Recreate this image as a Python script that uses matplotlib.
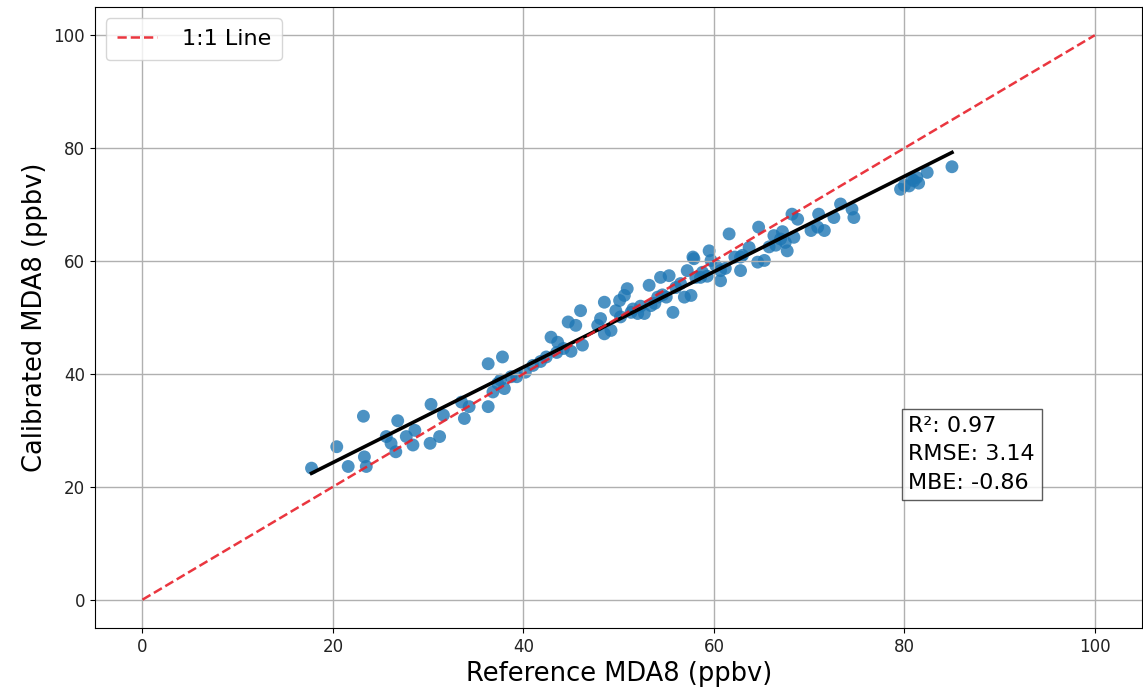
import numpy as np
import matplotlib
matplotlib.use('Agg')
import matplotlib.pyplot as plt

# reference vs calibrated MDA8 values
ref_mda8 = [
    17.75, 20.4, 21.6, 23.2, 23.3, 23.5, 25.6, 26.1, 26.8, 26.6,
    27.7, 28.4, 28.6, 30.3, 30.2, 31.2, 31.6, 33.5, 33.8, 34.3,
    36.3, 36.3, 36.8, 37.8, 37.3, 38.0, 38.7, 37.6, 39.3, 40.2,
    41.0, 41.8, 42.4, 43.5, 44.2, 45.0, 42.9, 44.7, 45.5, 46.0,
    43.6, 46.2, 48.5, 48.1, 47.8, 48.5, 49.2, 49.7, 50.1, 50.6,
    50.9, 50.2, 51.3, 52.0, 52.7, 53.2, 53.4, 54.1, 54.4, 55.3,
    55.0, 55.7, 56.9, 57.6, 57.8, 57.2, 58.1, 57.9, 59.5, 59.7,
    58.6, 60.7, 60.7, 61.6, 62.8, 62.8, 63.7, 64.6, 65.3, 64.7,
    66.3, 67.0, 67.7, 67.5, 68.2, 68.4, 68.8, 70.2, 70.9, 71.0,
    71.6, 72.6, 73.3, 74.5, 74.7, 79.6, 80.5, 81.0, 81.3, 82.4,
    85.0, 80.0, 80.8, 81.5, 51.5, 52.3, 53.8, 54.6, 56.0, 56.5,
    58.8, 59.3, 60.2, 61.2, 62.2, 63.0, 65.8, 66.5, 67.2,
]
cal_mda8 = [
    23.3, 27.1, 23.6, 32.5, 25.3, 23.6, 28.9, 27.7, 31.7, 26.2,
    28.9, 27.4, 30.0, 34.6, 27.7, 28.9, 32.7, 35.0, 32.1, 34.2,
    41.8, 34.2, 36.8, 43.0, 38.3, 37.4, 39.5, 38.9, 39.5, 40.3,
    41.5, 42.2, 43.0, 43.8, 44.5, 44.0, 46.5, 49.2, 48.6, 51.2,
    45.6, 45.1, 52.7, 49.8, 48.6, 47.1, 47.7, 51.2, 53.0, 53.9,
    55.1, 50.1, 50.9, 50.7, 50.7, 55.7, 52.1, 53.6, 57.1, 57.4,
    53.6, 50.9, 53.6, 53.9, 60.7, 58.3, 57.1, 60.4, 61.8, 60.1,
    57.1, 58.3, 56.5, 64.8, 58.3, 60.7, 62.4, 59.8, 60.1, 66.0,
    64.5, 63.9, 61.8, 63.3, 68.3, 64.2, 67.4, 65.4, 66.0, 68.3,
    65.4, 67.7, 70.1, 69.2, 67.7, 72.7, 73.3, 74.2, 74.8, 75.7,
    76.7, 73.4, 74.5, 73.8, 51.5, 52.0, 52.5, 54.0, 55.3, 56.0,
    58.0, 57.3, 59.2, 58.7, 60.7, 61.0, 62.5, 62.8, 65.2,
]
one_to_one = [0, 100]
r2, rmse, mbe = 0.97, 3.14, -0.86

x = np.array(ref_mda8)
y = np.array(cal_mda8)

fig = plt.figure(figsize=(11.43, 7), dpi=100)
ax = fig.add_axes([0.083, 0.103, 0.9165, 0.887])

ax.scatter(x, y, s=86, color='#1f77b4', alpha=0.8, edgecolors='none')

slope, intercept = np.polyfit(x, y, 1)
xs = np.array([x.min(), x.max()])
ax.plot(xs, slope * xs + intercept, color='black', lw=2.6)

ax.plot(one_to_one, one_to_one, color='#e8202a', linestyle='--', lw=1.8, alpha=0.9, label='1:1 Line')

ax.set_xlabel('Reference MDA8 (ppbv)', fontsize=18.5)
ax.set_ylabel('Calibrated MDA8 (ppbv)', fontsize=18.5)
ax.tick_params(labelsize=12, labelcolor='#222222')
ax.grid(True, color='#b0b0b0', lw=1)
ax.legend(loc='upper left', fontsize=16, handlelength=1.8, handletextpad=1.1,
          borderpad=0.5)

ax.text(0.7765, 0.217, f'R²: {r2:.2f}\nRMSE: {rmse:.2f}\nMBE: {mbe:.2f}',
        transform=ax.transAxes, fontsize=16, ha='left', va='bottom', linespacing=1.55,
        bbox=dict(boxstyle='square', pad=0.3, facecolor='white', edgecolor='#333333', alpha=0.8))

plt.savefig('out.png', dpi=100)
